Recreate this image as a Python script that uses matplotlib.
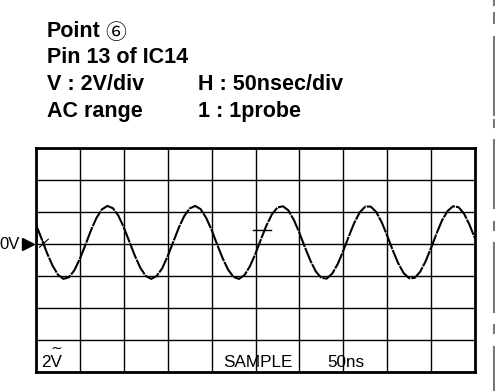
import matplotlib
matplotlib.use('Agg')
import matplotlib.pyplot as plt

W, H = 495, 391

# header lines
title_lines = ['Pin 13 of IC14', 'V : 2V/div', 'AC range']
right_lines = ['H : 50nsec/div', '1 : 1probe']
bottom_labels = ['SAMPLE', '50ns']

# trace (x in div, y in div, 0V at y=0)
trace_x = [i * 0.125 for i in range(81)]
trace_y = [0.60, 0.17, -0.28, -0.67, -0.96, -1.09, -1.04, -0.82, -0.46, -0.03,
           0.42, 0.81, 1.08, 1.19, 1.12, 0.89, 0.52, 0.08, -0.36, -0.74,
           -1.00, -1.09, -1.00, -0.76, -0.38, 0.06, 0.50, 0.87, 1.11, 1.19,
           1.09, 0.82, 0.44, -0.01, -0.44, -0.80, -1.03, -1.09, -0.97, -0.69,
           -0.30, 0.15, 0.58, 0.93, 1.14, 1.18, 1.05, 0.75, 0.35, -0.10,
           -0.52, -0.86, -1.06, -1.08, -0.92, -0.62, -0.21, 0.24, 0.66, 0.99,
           1.17, 1.17, 1.00, 0.68, 0.26, -0.19, -0.60, -0.91, -1.07, -1.06,
           -0.87, -0.54, -0.12, 0.33, 0.74, 1.03, 1.18, 1.15, 0.95, 0.60, 0.17]

# trigger level marker
trig_x = [4.94, 5.35]
trig_y = [0.44, 0.44]

fig = plt.figure(figsize=(W / 100, H / 100), dpi=100)
fig.patch.set_facecolor('white')

def px(x, y):
    return x / W, 1 - y / H

bold = dict(fontsize=15.5, fontweight='bold', family=['Liberation Sans', 'DejaVu Sans'], va='baseline')
fig.text(*px(47, 37), 'Point', **bold)
fig.text(*px(105, 39), '⑥', fontsize=15, family=['Noto Sans CJK JP', 'DejaVu Sans'], va='baseline')
for i, t in enumerate(title_lines):
    fig.text(*px(47, 63 + i * 27), t, **bold)
for i, t in enumerate(right_lines):
    fig.text(*px(198, 90 + i * 27), t, **bold)

ax = fig.add_axes([36 / W, 19 / H, 439 / W, 224 / H])
ax.set_xlim(0, 10)
ax.set_ylim(-4, 3)
ax.set_xticks(range(11))
ax.set_yticks(range(-4, 4))
ax.grid(True, color='black', linewidth=1.0)
ax.tick_params(length=0, labelbottom=False, labelleft=False)
for s in ax.spines.values():
    s.set_linewidth(2)
    s.set_zorder(5)

ax.plot(trace_x, trace_y, color='black', linewidth=1.5, linestyle=(0, (8, 0.5)), zorder=4)
ax.plot(trig_x, trig_y, color='black', linewidth=1.0, zorder=4)
ax.plot([0.05, 0.22], [0.45, -0.15], color='black', linewidth=0.8)
ax.plot([0.08, 0.28], [-0.1, 0.15], color='black', linewidth=0.8)

# 0V marker
ax.plot([-0.18], [0], marker='>', color='black', markersize=9, clip_on=False)
fig.text(*px(20, 249), '0V', fontsize=12, family='Liberation Sans', ha='right', va='baseline')

# bottom labels
lab = dict(fontsize=12.3, family=['Liberation Sans', 'DejaVu Sans'], va='baseline')
fig.text(*px(41, 367), '2V', **lab)
fig.text(*px(50, 353), '~', fontsize=10, family='DejaVu Sans', va='baseline')
fig.text(*px(223, 367), bottom_labels[0], **lab)
fig.text(*px(327, 367), bottom_labels[1], **lab)

# scan edge marks on right side
for y0, y1 in [(0, 5), (13, 23), (37, 115), (120, 127), (140, 208),
               (222, 230), (243, 312), (325, 333), (347, 391)]:
    fig.add_artist(plt.Line2D([493.5 / W, 493.5 / W], [1 - y0 / H, 1 - y1 / H],
                              color='#777777', linewidth=1.5))

fig.savefig('out.png', dpi=100)
